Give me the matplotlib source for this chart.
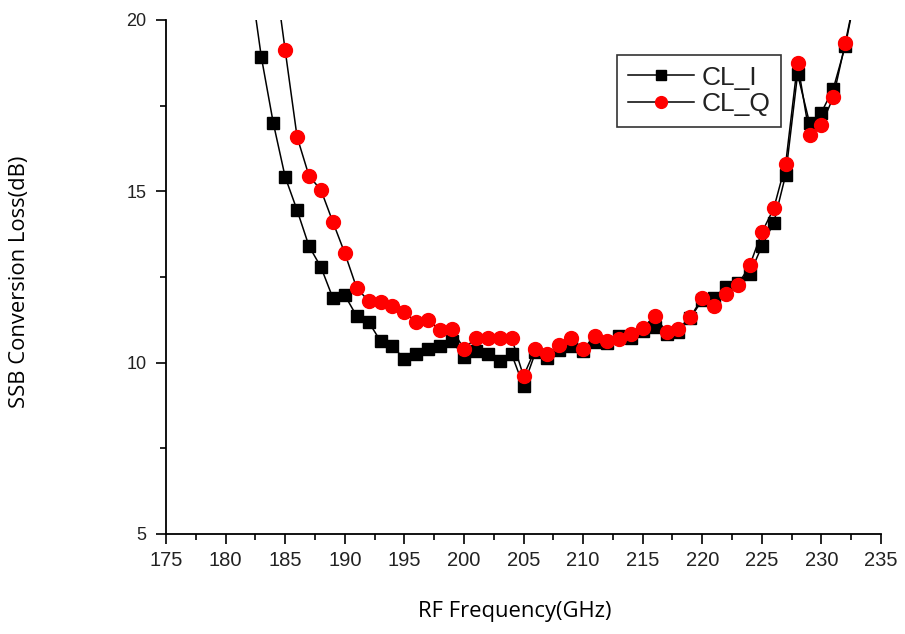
import matplotlib
matplotlib.use("Agg")
import matplotlib.pyplot as plt
from matplotlib.ticker import MultipleLocator

freq_i = list(range(182, 234))
cl_i = [21.4, 18.92, 17.0, 15.42, 14.45, 13.4, 12.79, 11.89, 11.97, 11.36,
        11.19, 10.63, 10.49, 10.1, 10.25, 10.4, 10.49, 10.63, 10.17, 10.34,
        10.25, 10.05, 10.25, 9.32, 10.3, 10.14, 10.37, 10.49, 10.34, 10.6,
        10.57, 10.78, 10.72, 10.93, 11.04, 10.84, 10.9, 11.3, 11.83, 11.89,
        12.2, 12.33, 12.59, 13.4, 14.08, 15.48, 18.42, 17.0, 17.3, 18.0,
        19.24, 21.0]

freq_q = list(range(184, 234))
cl_q = [21.7, 19.12, 16.59, 15.45, 15.04, 14.11, 13.2, 12.18, 11.8, 11.77,
        11.65, 11.48, 11.19, 11.25, 10.95, 10.98, 10.4, 10.72, 10.72, 10.72,
        10.72, 9.61, 10.4, 10.25, 10.52, 10.72, 10.4, 10.78, 10.63, 10.69,
        10.84, 11.01, 11.36, 10.9, 10.98, 11.33, 11.89, 11.65, 12.0, 12.27,
        12.85, 13.8, 14.5, 15.8, 18.75, 16.64, 16.94, 17.75, 19.33, 21.0]

x_ticks = list(range(175, 236, 5))
y_ticks = [5, 10, 15, 20]

fig = plt.figure(figsize=(9.05, 6.34), dpi=100)
ax = fig.add_axes([166/905, 1-534/634, 715/905, 514/634])

ax.plot(freq_i, cl_i, color="black", lw=1.1, marker="s", markersize=9,
        markerfacecolor="black", markeredgecolor="black", label="CL_I", zorder=3)
ax.plot(freq_q, cl_q, color="black", lw=1.1, marker="o", markersize=10,
        markerfacecolor="red", markeredgecolor="red", label="CL_Q", zorder=4)

ax.set_xlim(175, 235)
ax.set_ylim(5, 20)
ax.set_xticks(x_ticks)
ax.set_yticks(y_ticks)
ax.xaxis.set_minor_locator(MultipleLocator(2.5))
ax.yaxis.set_minor_locator(MultipleLocator(2.5))
ax.tick_params(which="major", direction="out", length=7, width=1.2)
ax.tick_params(which="minor", direction="out", length=4, width=1.2)
ax.tick_params(axis="x", which="major", labelsize=14.5, pad=5)
ax.tick_params(axis="y", which="major", labelsize=13, pad=7)
for lab in ax.get_xticklabels() + ax.get_yticklabels():
    lab.set_family("Liberation Sans")
    lab.set_color("#222222")

ax.spines["top"].set_visible(False)
ax.spines["right"].set_visible(False)
ax.spines["left"].set_linewidth(1.3)
ax.spines["bottom"].set_linewidth(1.3)

fig.text(515/905, 1-612/634, "RF Frequency(GHz)", ha="center", va="center",
         fontsize=15.8, family="Open Sans")
fig.text(20/905, 1-282/634, "SSB Conversion Loss(dB)", ha="center", va="center",
         rotation=90, fontsize=15.8, family="Open Sans")

leg = ax.legend(loc="upper left", bbox_to_anchor=(617/905, 1-55/634),
                bbox_transform=fig.transFigure, frameon=True, fancybox=False,
                edgecolor="black", fontsize=19, handlelength=2.5,
                borderpad=0.4, labelspacing=0.1, handletextpad=0.3,
                borderaxespad=0, markerscale=0.85)
leg.get_frame().set_linewidth(1.2)
for t in leg.get_texts():
    t.set_family("Liberation Sans")
    t.set_color("#222222")

fig.savefig("out.png", dpi=100)
